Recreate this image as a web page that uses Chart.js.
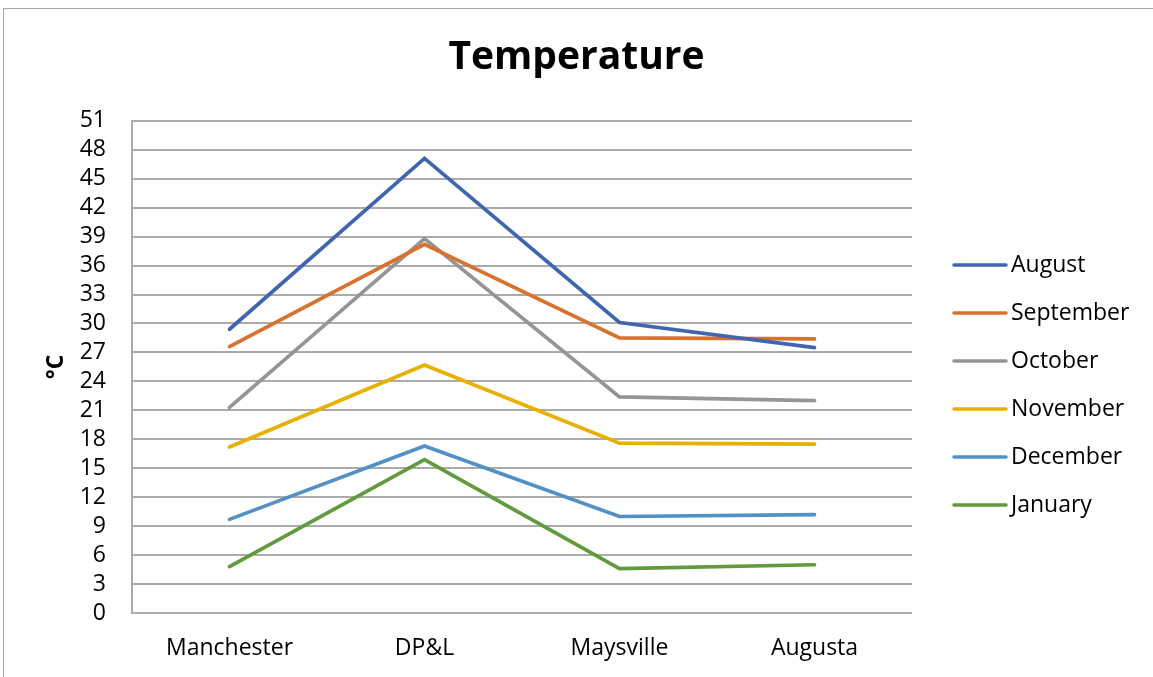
<!DOCTYPE html>
<html>
<head>
<meta charset="utf-8">
<script src="https://cdn.jsdelivr.net/npm/chart.js@4/dist/chart.umd.min.js"></script>
<style>
  html, body { margin: 0; padding: 0; background: #fff; overflow: hidden; }
  #frame { position: absolute; left: 3px; top: 8px; width: 1200px; height: 720px; border: 1px solid #a6a6a6; pointer-events: none; }
  #myChart { position: absolute; left: 0; top: 0; }
</style>
</head>
<body>
<canvas id="myChart" width="1153" height="677"></canvas>
<div id="frame"></div>
<script>
var sites = ['Manchester', 'DP&L', 'Maysville', 'Augusta'];

var august    = [29.4, 47.1, 30.1, 27.5];
var september = [27.6, 38.2, 28.5, 28.4];
var october   = [21.3, 38.8, 22.4, 22.0];
var november  = [17.2, 25.7, 17.6, 17.5];
var december  = [9.7, 17.3, 10.0, 10.2];
var january   = [4.8, 15.9, 4.6, 5.0];

var monthNames = ['August', 'September', 'October', 'November', 'December', 'January'];
var monthColors = ['#4066b0', '#d9712f', '#959595', '#e8b000', '#5290c8', '#629b3e'];
var monthValues = [august, september, october, november, december, january];

var yMin = 0;
var yMax = 51;
var yStep = 3;

var font = "'Open Sans', sans-serif";

// legend on the right, drawn by hand so it sits where Excel put it
const sideLegend = {
  id: 'sideLegend',
  afterDraw(chart) {
    const ctx = chart.ctx;
    ctx.save();
    chart.data.datasets.forEach((ds, i) => {
      var y = 265 + i * 48;
      ctx.strokeStyle = ds.borderColor;
      ctx.lineWidth = 3.5;
      ctx.lineCap = 'round';
      ctx.beginPath();
      ctx.moveTo(954, y);
      ctx.lineTo(1006, y);
      ctx.stroke();
      ctx.fillStyle = '#000';
      ctx.font = '23px ' + font;
      ctx.textBaseline = 'middle';
      ctx.textAlign = 'left';
      ctx.fillText(ds.label, 1011, y);
    });
    ctx.restore();
  }
};

const data = {
  labels: sites,
  datasets: monthNames.map((name, i) => ({
    label: name,
    data: monthValues[i],
    borderColor: monthColors[i],
    backgroundColor: monthColors[i],
    borderWidth: 3.7,
    borderCapStyle: 'round',
    pointRadius: 0,
    tension: 0
  }))
};

const config = {
  type: 'line',
  data: data,
  options: {
    responsive: false,
    animation: false,
    layout: { padding: { left: 0, right: 0, top: 0, bottom: 0 } },
    plugins: {
      legend: { display: false },
      tooltip: { enabled: false },
      title: {
        display: true,
        text: 'Temperature',
        color: '#000',
        font: { family: font, size: 39, weight: 'bold' },
        padding: { top: 34, bottom: 40 }
      }
    },
    scales: {
      x: {
        offset: true,
        grid: { display: false, drawTicks: false },
        border: { display: false },
        ticks: { color: '#000', padding: 22, font: { family: font, size: 23 } },
        afterFit: (scale) => { scale.height = 64; }
      },
      y: {
        min: yMin,
        max: yMax,
        ticks: { stepSize: yStep, autoSkip: false, color: '#000', padding: 26, font: { family: font, size: 23 } },
        grid: { color: '#ababab', lineWidth: 2, drawTicks: false },
        border: { display: true, color: '#ababab', width: 2 },
        title: {
          display: true,
          text: '°C',
          color: '#000',
          font: { family: font, size: 23, weight: 'bold' },
          padding: { top: 43, bottom: 0 }
        },
        afterFit: (scale) => { scale.width = 132; }
      },
      // empty right-hand axis that just keeps room for the legend
      legendSpace: {
        type: 'linear',
        position: 'right',
        min: yMin,
        max: yMax,
        grid: { display: false, drawTicks: false },
        border: { display: false },
        ticks: { display: false },
        afterFit: (scale) => { scale.width = 241; }
      }
    }
  },
  plugins: [sideLegend]
};

const myChart = new Chart(
  document.getElementById('myChart'),
  config
);
</script>
</body>
</html>
